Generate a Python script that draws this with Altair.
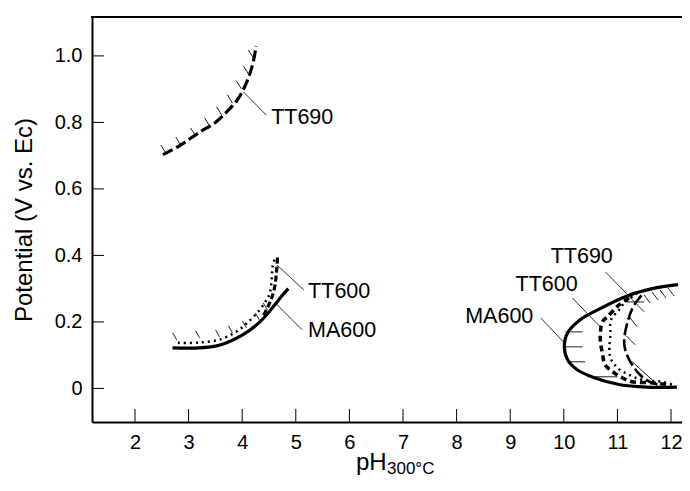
import altair as alt
import pandas as pd

FONT = "Liberation Sans"

# ---- axes ----
X_DOMAIN = [1.198, 12.205]
Y_DOMAIN = [-0.101, 1.117]
X_TICKS = [2, 3, 4, 5, 6, 7, 8, 9, 10, 11, 12]
Y_TICKS = [0, 0.2, 0.4, 0.6, 0.8, 1.0]

# ---- curves (pH, potential) ----
tt690_up_ph = [2.52, 2.85, 3.2, 3.5, 3.72, 3.9, 4.04, 4.14, 4.21, 4.26]
tt690_up_v = [0.703, 0.732, 0.77, 0.80, 0.833, 0.866, 0.905, 0.945, 0.985, 1.03]

ma600_left_ph = [2.70, 3.2, 3.5, 3.71, 4.0, 4.26, 4.45, 4.6, 4.75, 4.86]
ma600_left_v = [0.122, 0.122, 0.127, 0.137, 0.16, 0.19, 0.22, 0.25, 0.28, 0.30]

dot_left_ph = [2.8, 3.2, 3.6, 3.9, 4.1, 4.32, 4.45, 4.52, 4.55, 4.57, 4.62]
dot_left_v = [0.137, 0.138, 0.148, 0.172, 0.198, 0.235, 0.265, 0.29, 0.33, 0.37, 0.395]

tt600_left_ph = [4.4, 4.52, 4.6, 4.64, 4.66]
tt600_left_v = [0.22, 0.26, 0.30, 0.35, 0.40]

ma600_right_ph = [12.13, 11.65, 11.18, 10.63, 10.30, 10.07, 10.01, 10.07, 10.25, 10.57, 11.05, 11.55, 12.11]
ma600_right_v = [0.312, 0.300, 0.278, 0.236, 0.206, 0.167, 0.125, 0.086, 0.056, 0.032, 0.011, 0.004, 0.004]

tt600_right_ph = [11.22, 11.03, 10.81, 10.72, 10.68, 10.72, 10.77, 10.94, 11.09, 11.27, 11.64, 11.96]
tt600_right_v = [0.272, 0.251, 0.215, 0.200, 0.146, 0.107, 0.071, 0.047, 0.032, 0.020, 0.017, 0.011]

dot_right_ph = [11.37, 11.13, 11.03, 10.88, 10.87, 10.85, 10.87, 11.0, 11.22, 11.46, 11.83, 12.02]
dot_right_v = [0.287, 0.257, 0.236, 0.206, 0.161, 0.122, 0.092, 0.062, 0.041, 0.026, 0.020, 0.011]

tt690_right_ph = [11.45, 11.33, 11.25, 11.2, 11.14, 11.13, 11.18, 11.3, 11.42, 11.6, 11.8]
tt690_right_v = [0.28, 0.255, 0.23, 0.205, 0.165, 0.13, 0.10, 0.065, 0.041, 0.02, 0.01]

# ---- hatch segments (x1, y1, x2, y2) ----
hatch_x1 = [2.575, 2.853, 3.132, 3.391, 3.614, 3.818, 3.985, 4.115, 4.208,
            2.779, 3.206, 3.577, 3.818, 4.078, 4.319, 4.468,
            10.03, 10.01, 10.07, 10.44, 11.18,
            11.499, 11.647, 11.796, 11.944, 11.221, 11.165, 11.276]
hatch_y1 = [0.708, 0.732, 0.759, 0.789, 0.823, 0.858, 0.901, 0.946, 0.994,
            0.146, 0.152, 0.155, 0.167, 0.182, 0.206, 0.236,
            0.17, 0.125, 0.08, 0.035, 0.26,
            0.281, 0.290, 0.296, 0.302, 0.215, 0.158, 0.080]
hatch_x2 = [2.482, 2.761, 3.039, 3.299, 3.521, 3.725, 3.892, 4.022, 4.115,
            2.705, 3.132, 3.503, 3.744, 4.004, 4.245, 4.393,
            10.35, 10.35, 10.40, 11.0, 11.5,
            11.610, 11.759, 11.907, 12.056, 11.369, 11.332, 11.647]
hatch_y2 = [0.732, 0.756, 0.783, 0.814, 0.847, 0.883, 0.925, 0.970, 1.018,
            0.167, 0.173, 0.176, 0.188, 0.203, 0.227, 0.257,
            0.17, 0.125, 0.08, 0.035, 0.26,
            0.257, 0.266, 0.272, 0.278, 0.185, 0.131, 0.026]

# ---- labels and leader lines ----
label_text = ["TT690", "TT600", "MA600", "TT690", "TT600", "MA600"]
label_x = [4.54, 5.23, 5.23, 9.755, 9.1, 8.16]
label_y = [0.814, 0.29, 0.173, 0.395, 0.311, 0.215]
leader_x1 = [4.02, 4.65, 4.60, 10.78, 10.16, 9.57]
leader_y1 = [0.892, 0.371, 0.260, 0.350, 0.272, 0.212]
leader_x2 = [4.45, 5.15, 5.12, 11.50, 10.68, 10.01]
leader_y2 = [0.822, 0.296, 0.176, 0.230, 0.185, 0.137]

W, H = 590, 405
xs = alt.Scale(domain=X_DOMAIN, nice=False, zero=False)
ys = alt.Scale(domain=Y_DOMAIN, nice=False, zero=False)

X_AXIS = alt.Axis(
    values=X_TICKS, ticks=False, domain=True, domainColor="black", domainWidth=2,
    grid=False, format="d",
    labelFont=FONT, labelFontSize=20, labelColor="black", labelPadding=10,
    title=None)
Y_AXIS = alt.Axis(
    values=Y_TICKS, ticks=False, domain=True, domainColor="black", domainWidth=2,
    grid=False,
    labelExpr="datum.value == 0 ? '0' : format(datum.value, '.1f')",
    labelFont=FONT, labelFontSize=20, labelColor="black", labelPadding=10,
    title="Potential (V vs. Ec)", titleFont=FONT, titleFontSize=24,
    titleFontWeight="normal", titleColor="black", titlePadding=18)


def line(ph, v, width, dash=None):
    df = pd.DataFrame({"pH": ph, "V": v, "i": list(range(len(ph)))})
    kw = dict(color="black", strokeWidth=width, interpolate="catmull-rom", strokeCap="butt")
    if dash is not None:
        kw["strokeDash"] = dash
    return alt.Chart(df).mark_line(**kw).encode(
        x=alt.X("pH:Q", scale=xs, axis=X_AXIS),
        y=alt.Y("V:Q", scale=ys, axis=Y_AXIS),
        order="i:Q",
    )


def segs(x1, y1, x2, y2, width=1, color="black"):
    df = pd.DataFrame({"x1": x1, "y1": y1, "x2": x2, "y2": y2})
    return alt.Chart(df).mark_rule(color=color, strokeWidth=width).encode(
        x=alt.X("x1:Q", scale=xs, axis=X_AXIS),
        y=alt.Y("y1:Q", scale=ys, axis=Y_AXIS),
        x2="x2:Q",
        y2="y2:Q",
    )


yticks = alt.Chart(pd.DataFrame({"v": Y_TICKS})).mark_rule(color="black", strokeWidth=1).encode(
    y=alt.Y("v:Q", scale=ys, axis=Y_AXIS),
    x=alt.value(0), x2=alt.value(12),
)

xticks = alt.Chart(pd.DataFrame({"v": X_TICKS})).mark_rule(color="black", strokeWidth=1).encode(
    x=alt.X("v:Q", scale=xs, axis=X_AXIS),
    y=alt.value(H), y2=alt.value(H - 13),
)

# top frame line (the plot box is open on the right, as in the figure)
top_frame = alt.Chart(pd.DataFrame({"k": [0]})).mark_rule(color="black", strokeWidth=2).encode(
    x=alt.value(-1), x2=alt.value(W), y=alt.value(0)
)

labels = alt.Chart(pd.DataFrame({"x": label_x, "y": label_y, "t": label_text})).mark_text(
    align="left", baseline="middle", font=FONT, fontSize=21.5, color="black"
).encode(
    x=alt.X("x:Q", scale=xs, axis=X_AXIS),
    y=alt.Y("y:Q", scale=ys, axis=Y_AXIS),
    text="t:N",
)

xtitle_main = alt.Chart(pd.DataFrame({"t": ["pH"]})).mark_text(
    align="left", baseline="alphabetic", font=FONT, fontSize=24, color="black"
).encode(x=alt.value(264), y=alt.value(453), text="t:N")
xtitle_sub = alt.Chart(pd.DataFrame({"t": ["300°C"]})).mark_text(
    align="left", baseline="alphabetic", font=FONT, fontSize=17, color="black"
).encode(x=alt.value(295), y=alt.value(457), text="t:N")

chart = alt.layer(
    yticks, xticks, top_frame,
    segs(hatch_x1, hatch_y1, hatch_x2, hatch_y2, 1, "#222"),
    segs(leader_x1, leader_y1, leader_x2, leader_y2, 1, "#333"),
    line(tt690_up_ph, tt690_up_v, 3.2, [11, 4]),
    line(ma600_left_ph, ma600_left_v, 3.2),
    line(dot_left_ph, dot_left_v, 2.5, [2, 4]),
    line(tt600_left_ph, tt600_left_v, 3.2, [6, 3]),
    line(ma600_right_ph, ma600_right_v, 3.2),
    line(tt600_right_ph, tt600_right_v, 3.5, [6, 4]),
    line(dot_right_ph, dot_right_v, 2.5, [2, 4]),
    line(tt690_right_ph, tt690_right_v, 2.6, [12, 4]),
    labels, xtitle_main, xtitle_sub,
).properties(
    width=W, height=H,
    autosize=alt.AutoSizeParams(type="none"),
    padding={"left": 84, "top": 9, "right": 0, "bottom": 57},
).configure_view(strokeWidth=0)

chart.save("out.html", embed_options={"renderer": "svg", "actions": False})
